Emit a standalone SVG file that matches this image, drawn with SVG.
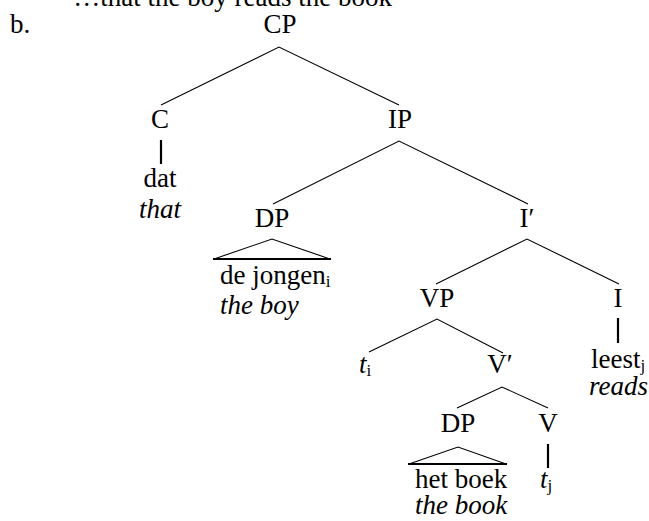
<svg xmlns="http://www.w3.org/2000/svg" width="649" height="521" viewBox="0 0 649 521">
<style>
text{font-family:"Liberation Serif","Times New Roman",serif;font-size:27px;fill:#000}
.m{text-anchor:middle}
.it{font-style:italic}
.sub{font-size:17px}
.e{stroke:#000;stroke-width:1.1;fill:none}
.v{stroke:#000;stroke-width:2.2;fill:none}
</style>
<rect width="649" height="521" fill="#fff"/>
<text x="392" y="6" text-anchor="end">…that the boy reads the book</text>
<text x="10" y="33">b.</text>
<g id="connectors">
<path class="e" d="M161,105 L279,47 L399,105"/>
<path class="v" d="M161,140 V164"/>
<path class="e" d="M273,204 L399,141 L528,204"/>
<path class="e" d="M436,284 L527,239 L619,284"/>
<path class="v" d="M618,318 V343"/>
<path class="e" d="M369,352 L437,319 L503,353"/>
<path class="e" d="M457,408 L502,387 L548,408"/>
<path class="v" d="M548,444 V468"/>
</g>
<g id="CP"><text class="m" x="280" y="33">CP</text></g>
<g id="C"><text class="m" x="160" y="128">C</text></g>
<g id="dat"><text class="m" x="160" y="187">dat</text><text class="m it" x="160" y="218">that</text></g>
<g id="IP"><text class="m" x="400" y="128">IP</text></g>
<g id="DP1"><text class="m" x="272" y="227">DP</text>
<path class="e" d="M214,259 L272,239 L330,259"/><path class="v" d="M213,259 H331"/></g>
<g id="dejongen"><text x="220" y="284">de jongen<tspan class="sub" dy="3">i</tspan></text><text class="it" x="220" y="314">the boy</text></g>
<g id="Ibar"><text class="m" x="527" y="227">I′</text></g>
<g id="VP"><text class="m" x="437" y="307">VP</text></g>
<g id="I"><text class="m" x="618" y="307">I</text></g>
<g id="leest"><text x="591" y="368">leest<tspan class="sub" dy="3">j</tspan></text><text class="it" x="589" y="395">reads</text></g>
<g id="ti"><text x="359" y="373"><tspan class="it">t</tspan><tspan class="sub" dy="3">i</tspan></text></g>
<g id="Vbar"><text class="m" x="500" y="373">V′</text></g>
<g id="DP2"><text class="m" x="458" y="432">DP</text>
<path class="e" d="M409,464 L458,447 L506,464"/><path class="v" d="M408,464 H507"/></g>
<g id="V"><text class="m" x="548" y="432">V</text></g>
<g id="hetboek"><text x="415" y="488">het boek</text><text class="it" x="415" y="514">the book</text></g>
<g id="tj"><text x="540" y="488"><tspan class="it">t</tspan><tspan class="sub" dy="3">j</tspan></text></g>
</svg>
